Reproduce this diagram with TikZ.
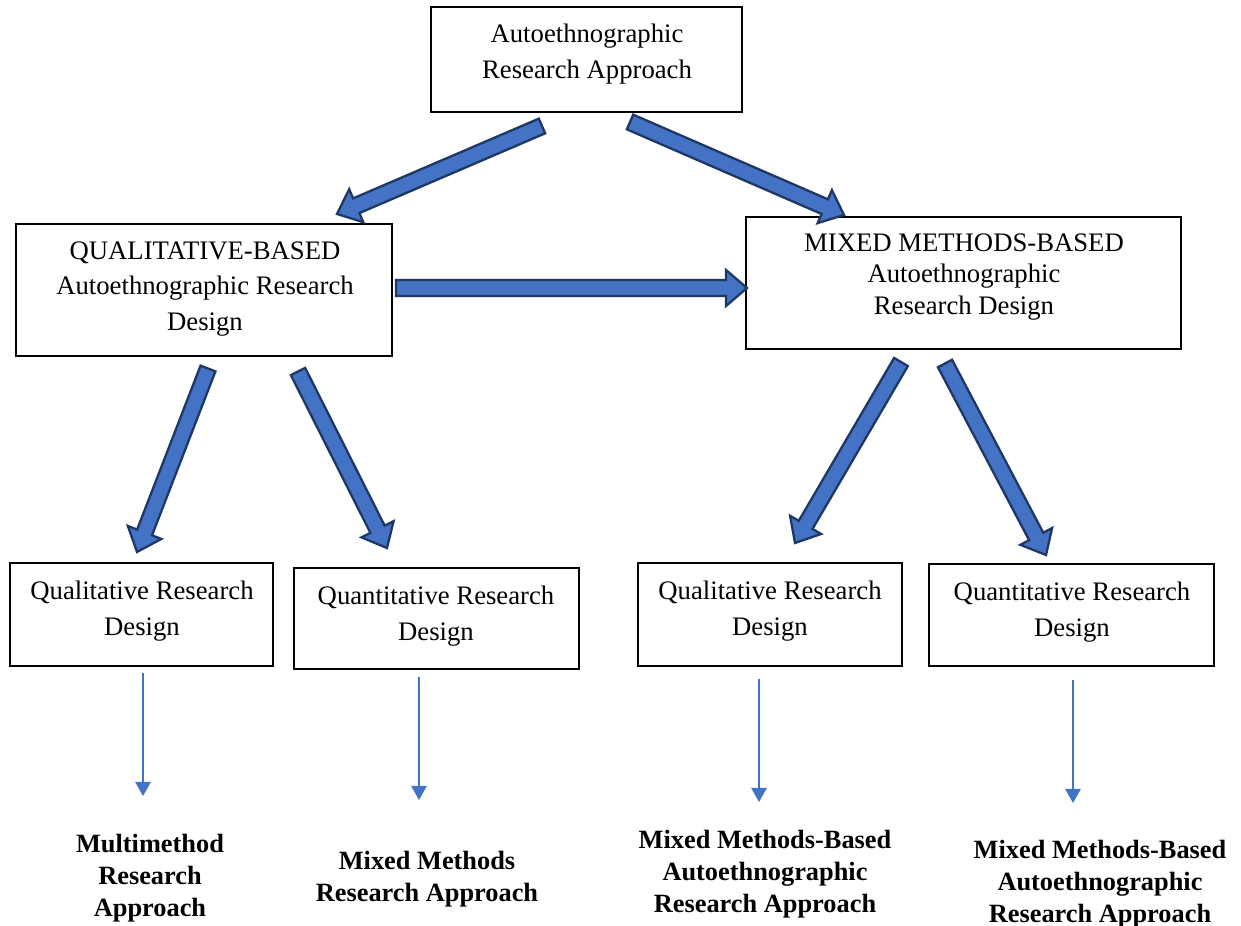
\documentclass[tikz,border=0pt]{standalone}
\usepackage{fontspec}
\setmainfont{Liberation Serif}
\usetikzlibrary{calc,fit,arrows.meta}

\definecolor{arrowfill}{HTML}{4472C4}
\definecolor{arrowedge}{HTML}{1F3763}
\definecolor{thinblue}{HTML}{4472C4}

% Fat block arrow from #1 (tail centre) to #2 (tip)
\newcommand\blockarrow[2]{%
  \coordinate (hb) at ($(#2)!0.42cm!(#1)$);
  \draw[blockarr]
    ($(#1)!0.16cm!90:(#2)$) -- ($(hb)!0.16cm!90:(#2)$) --
    ($(hb)!0.36cm!90:(#2)$) -- (#2) --
    ($(hb)!0.36cm!-90:(#2)$) -- ($(hb)!0.16cm!-90:(#2)$) --
    ($(#1)!0.16cm!-90:(#2)$) -- cycle;}

\tikzset{
  box/.style={draw=black, line width=0.7pt, inner sep=0pt, fill=white},
  txt/.style={align=center, inner sep=0pt,
              font=\fontsize{15.2}{20.4}\selectfont},
  txtnarrow/.style={align=center, inner sep=0pt,
              font=\fontsize{15.2}{17.8}\selectfont},
  result/.style={align=center, inner sep=0pt,
              font=\bfseries\fontsize{15}{18.2}\selectfont},
  blockarr/.style={fill=arrowfill, draw=arrowedge, line width=1.3pt, line join=miter},
  thinarr/.style={draw=thinblue, line width=0.8pt,
              -{Triangle[width=8.8pt,length=8pt]}},
}

\begin{document}
\begin{tikzpicture}[x=0.02cm, y=-0.02cm]
\useasboundingbox (0,0) rectangle (1241,926);

% boxes
\node[box, fit={(431,7) (742,112)}] (top) {};
\node[box, fit={(16,224) (392,356)}] (qual) {};
\node[box, fit={(746,217) (1181,349)}] (mixed) {};
\node[box, fit={(10,563) (273,666)}] (b1) {};
\node[box, fit={(294,568) (579,669)}] (b2) {};
\node[box, fit={(638,563) (902,666)}] (b3) {};
\node[box, fit={(929,564) (1214,666)}] (b4) {};

% box texts
\node[txt] (topT) at (587,54) {Autoethnographic\\Research Approach};
\node[txt] (qualT) at (205,289) {QUALITATIVE-BASED\\Autoethnographic Research\\Design};
\node[txtnarrow] (mixedT) at (964,277) {MIXED METHODS-BASED\\Autoethnographic\\Research Design};
\node[txt] (b1T) at (142,611) {Qualitative Research\\Design};
\node[txt] (b2T) at (436,616) {Quantitative Research\\Design};
\node[txt] (b3T) at (770,611) {Qualitative Research\\Design};
\node[txt] (b4T) at (1072,612) {Quantitative Research\\Design};

% resulting approaches
\node[result] (r1) at (150,878) {Multimethod\\Research\\Approach};
\node[result] (r2) at (427,879) {Mixed Methods\\Research Approach};
\node[result] (r3) at (765,874) {Mixed Methods-Based\\Autoethnographic\\Research Approach};
\node[result] (r4) at (1100,884) {Mixed Methods-Based\\Autoethnographic\\Research Approach};

% block arrow end points
\coordinate (a1s) at (542,126);   \coordinate (a1e) at (337,214);
\coordinate (a2s) at (630,122);   \coordinate (a2e) at (844,215);
\coordinate (a3s) at (396,288);   \coordinate (a3e) at (747,288);
\coordinate (a4s) at (208,368.5); \coordinate (a4e) at (137,552);
\coordinate (a5s) at (298,371.5); \coordinate (a5e) at (387,548);
\coordinate (a6s) at (901,362);   \coordinate (a6e) at (795,543);
\coordinate (a7s) at (945,363.5); \coordinate (a7e) at (1046,555);

\blockarrow{a1s}{a1e}
\blockarrow{a2s}{a2e}
\blockarrow{a3s}{a3e}
\blockarrow{a4s}{a4e}
\blockarrow{a5s}{a5e}
\blockarrow{a6s}{a6e}
\blockarrow{a7s}{a7e}

% thin arrows from the design boxes
\coordinate (t1s) at (143,673);  \coordinate (t1e) at (143,796);
\coordinate (t2s) at (419,677);  \coordinate (t2e) at (419,800);
\coordinate (t3s) at (759,679);  \coordinate (t3e) at (759,802);
\coordinate (t4s) at (1073,680); \coordinate (t4e) at (1073,803);
\draw[thinarr] (t1s) -- (t1e);
\draw[thinarr] (t2s) -- (t2e);
\draw[thinarr] (t3s) -- (t3e);
\draw[thinarr] (t4s) -- (t4e);
\end{tikzpicture}
\end{document}
